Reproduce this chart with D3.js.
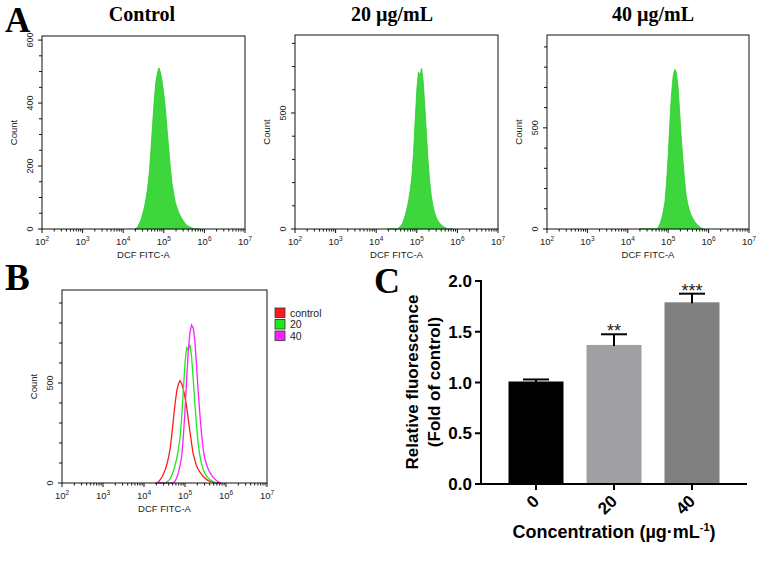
<!DOCTYPE html>
<html>
<head>
<meta charset="utf-8">
<script src="https://cdn.jsdelivr.net/npm/d3@7"></script>
<style>
  body { margin: 0; background: #fff; }
  svg { display: block; }
  .flow text { font-family: "Liberation Sans", Arial, sans-serif; fill: #222; }
  .serif { font-family: "Liberation Serif", "Times New Roman", serif; font-weight: bold; fill: #000; }
  .bar text { font-family: "Liberation Sans", Arial, sans-serif; font-weight: bold; fill: #000; }
</style>
</head>
<body>
<script>
// log10 of DCF fluorescence, bin centres shared by all histograms
var binLog = [4.28, 4.32, 4.36, 4.40, 4.44, 4.48, 4.52, 4.56, 4.60, 4.64,
              4.68, 4.72, 4.76, 4.80, 4.84, 4.88, 4.92, 4.96, 5.00, 5.04,
              5.08, 5.12, 5.16, 5.20, 5.24, 5.28, 5.32, 5.36, 5.40, 5.44,
              5.48, 5.52, 5.56, 5.60, 5.64, 5.68, 5.72, 5.76, 5.80, 5.84, 5.88];

var countControl = [0, 2, 8, 18, 30, 48, 68, 95, 129, 175,
                    245, 325, 400, 462, 495, 512, 496, 468, 428, 382,
                    318, 258, 198, 146, 116, 86, 70, 55, 44, 34,
                    26, 18, 13, 9, 7, 4, 2, 0, 0, 0, 0];

var count20 = [0, 0, 0, 0, 0, 0, 0, 6, 12, 22,
               40, 62, 90, 125, 170, 228, 330, 468, 600, 676,
               665, 692, 632, 520, 402, 290, 198, 140, 98, 70,
               50, 36, 26, 18, 12, 8, 4, 0, 0, 0, 0];

var count40 = [0, 0, 0, 0, 0, 0, 0, 0, 0, 0,
               0, 0, 10, 28, 52, 88, 135, 232, 362, 520,
               660, 752, 790, 775, 712, 592, 462, 352, 252, 175,
               126, 96, 72, 56, 42, 30, 22, 14, 8, 3, 0];

var decades = [2, 3, 4, 5, 6, 7];
var legendNames = ["control", "20", "40"];
var lineColors = ["#ff1a1a", "#1ee81e", "#ff1eff"];

// panel C
var doses = ["0", "20", "40"];
var relFluor = [1.01, 1.37, 1.79];
var relErr = [0.02, 0.105, 0.085];
var stars = ["", "**", "***"];
var barColors = ["#000000", "#a09fa4", "#808080"];
var yTicksC = [0, 0.5, 1.0, 1.5, 2.0];

var svg = d3.select("body").append("svg")
  .attr("width", 772).attr("height", 566);

function flowPanel(x0, y0, w, h, yMax, yMajor, yMinor, series, filled) {
  var g = svg.append("g").attr("class", "flow")
    .attr("transform", "translate(" + x0 + "," + y0 + ")");
  var x = d3.scaleLog().domain([1e2, 1e7]).range([0, w]);
  var y = d3.scaleLinear().domain([0, yMax]).range([h, 0]);

  series.forEach(function (s) {
    var pts = binLog.map(function (b, i) { return [Math.pow(10, b), s.counts[i]]; });
    if (filled) {
      var area = d3.area()
        .x(function (d) { return x(d[0]); })
        .y0(y(0))
        .y1(function (d) { return y(d[1]); });
      g.append("path").datum(pts).attr("d", area)
        .attr("fill", "#3dd63d").attr("stroke", "#2bcc2b").attr("stroke-width", 0.8);
    } else {
      var line = d3.line()
        .x(function (d) { return x(d[0]); })
        .y(function (d) { return y(d[1]); });
      g.append("path").datum(pts).attr("d", line)
        .attr("fill", "none").attr("stroke", s.color).attr("stroke-width", 1.3);
    }
  });

  g.append("rect").attr("x", 0).attr("y", 0).attr("width", w).attr("height", h)
    .attr("fill", "none").attr("stroke", "#111").attr("stroke-width", 1);

  // x ticks: decades plus 2..9 minor ticks
  decades.forEach(function (k) {
    var v = Math.pow(10, k);
    g.append("line").attr("x1", x(v)).attr("x2", x(v))
      .attr("y1", h).attr("y2", h + 4).attr("stroke", "#111");
    if (k < 7) {
      d3.range(2, 10).forEach(function (m) {
        g.append("line").attr("x1", x(m * v)).attr("x2", x(m * v))
          .attr("y1", h).attr("y2", h + 2.5).attr("stroke", "#111");
      });
    }
    var t = g.append("text").attr("x", x(v)).attr("y", h + 16)
      .attr("text-anchor", "middle").attr("font-size", 9.5);
    t.append("tspan").text("10");
    t.append("tspan").attr("dy", -4).attr("font-size", 6.5).text(k);
  });

  // y ticks
  d3.range(0, yMax + 0.1, yMinor).forEach(function (v) {
    var major = yMajor.indexOf(v) >= 0;
    g.append("line").attr("x1", major ? -4 : -3).attr("x2", 0)
      .attr("y1", y(v)).attr("y2", y(v)).attr("stroke", "#111");
  });
  yMajor.forEach(function (v) {
    g.append("text").attr("transform", "translate(-9," + y(v) + ") rotate(-90)")
      .attr("text-anchor", "middle").attr("font-size", 9).text(v);
  });

  g.append("text").attr("transform", "translate(-25," + (h / 2) + ") rotate(-90)")
    .attr("text-anchor", "middle").attr("font-size", 9.5).text("Count");
  g.append("text").attr("x", w / 2).attr("y", h + 29)
    .attr("text-anchor", "middle").attr("font-size", 9.5).text("DCF FITC-A");
  return g;
}

// ---- A ----
svg.append("text").attr("class", "serif").attr("x", 5).attr("y", 32)
  .attr("font-size", 35).text("A");
var titlesA = ["Control", "20 \u00b5g/mL", "40 \u00b5g/mL"];
var titleX = [142, 392, 653];
titlesA.forEach(function (t, i) {
  svg.append("text").attr("class", "serif").attr("x", titleX[i]).attr("y", 21)
    .attr("text-anchor", "middle").attr("font-size", 20).text(t);
});

flowPanel(42, 36, 203, 193, 613, [0, 200, 400, 600], 50, [{ counts: countControl }], true);
flowPanel(295, 35, 203, 194, 836, [0, 500], 100, [{ counts: count20 }], true);
flowPanel(547, 35, 202, 194, 959, [0, 500], 100, [{ counts: count40 }], true);

// ---- B ----
svg.append("text").attr("class", "serif").attr("x", 5).attr("y", 290)
  .attr("font-size", 37).text("B");
flowPanel(62, 290, 205, 193, 965, [0, 500], 100, [
  { counts: countControl, color: lineColors[0] },
  { counts: count20, color: lineColors[1] },
  { counts: count40, color: lineColors[2] }
], false);

var legend = svg.append("g").attr("class", "flow").attr("transform", "translate(275,308)");
legendNames.forEach(function (n, i) {
  legend.append("rect").attr("x", 0).attr("y", i * 11.5).attr("width", 10).attr("height", 9.5)
    .attr("fill", lineColors[i]).attr("stroke", "#333").attr("stroke-width", 0.8);
  legend.append("text").attr("x", 15).attr("y", i * 11.5 + 8.5)
    .attr("font-size", 10.5).text(n);
});

// ---- C ----
svg.append("text").attr("class", "serif").attr("x", 374).attr("y", 293)
  .attr("font-size", 36).text("C");

var gC = svg.append("g").attr("class", "bar");
var yC = d3.scaleLinear().domain([0, 2]).range([484, 281]);
var xC = d3.scaleBand().domain(doses).range([497, 731])
  .paddingInner(0.295).paddingOuter(0.1475);

gC.selectAll("rect.b").data(doses).enter().append("rect")
  .attr("x", function (d) { return xC(d); })
  .attr("y", function (d, i) { return yC(relFluor[i]); })
  .attr("width", xC.bandwidth())
  .attr("height", function (d, i) { return yC(0) - yC(relFluor[i]); })
  .attr("fill", function (d, i) { return barColors[i]; });

doses.forEach(function (d, i) {
  var cx = xC(d) + xC.bandwidth() / 2;
  var top = yC(relFluor[i] + relErr[i]);
  gC.append("line").attr("x1", cx).attr("x2", cx)
    .attr("y1", yC(relFluor[i]) + 1).attr("y2", top)
    .attr("stroke", "#000").attr("stroke-width", 2);
  gC.append("line").attr("x1", cx - 13).attr("x2", cx + 13)
    .attr("y1", top).attr("y2", top)
    .attr("stroke", "#000").attr("stroke-width", 2);
  if (stars[i]) {
    gC.append("text").attr("x", cx).attr("y", top + 3)
      .attr("text-anchor", "middle").attr("font-size", 18)
      .style("font-weight", "normal").style("fill", "#222").text(stars[i]);
  }
  gC.append("line").attr("x1", cx).attr("x2", cx).attr("y1", 484).attr("y2", 490)
    .attr("stroke", "#000").attr("stroke-width", 2);
  gC.append("text").attr("transform", "translate(" + cx + ",498) rotate(-45)")
    .attr("text-anchor", "end").attr("dy", "0.35em").attr("font-size", 17).text(d);
});

// axes lines
gC.append("line").attr("x1", 481).attr("x2", 481).attr("y1", 280).attr("y2", 485)
  .attr("stroke", "#000").attr("stroke-width", 2);
gC.append("line").attr("x1", 480).attr("x2", 747).attr("y1", 484).attr("y2", 484)
  .attr("stroke", "#000").attr("stroke-width", 2);
yTicksC.forEach(function (v) {
  gC.append("line").attr("x1", 475).attr("x2", 481).attr("y1", yC(v)).attr("y2", yC(v))
    .attr("stroke", "#000").attr("stroke-width", 2);
  gC.append("text").attr("x", 472).attr("y", yC(v)).attr("dy", "0.36em")
    .attr("text-anchor", "end").attr("font-size", 17).text(d3.format(".1f")(v));
});

gC.append("text").attr("transform", "translate(418,382) rotate(-90)")
  .attr("text-anchor", "middle").attr("font-size", 17).text("Relative fluorescence");
gC.append("text").attr("transform", "translate(440,382) rotate(-90)")
  .attr("text-anchor", "middle").attr("font-size", 17).text("(Fold of control)");

var xt = gC.append("text").attr("x", 614).attr("y", 538)
  .attr("text-anchor", "middle").attr("font-size", 18);
xt.append("tspan").text("Concentration (\u00b5g\u00b7mL");
xt.append("tspan").attr("dy", -7).attr("font-size", 11).text("-1");
xt.append("tspan").attr("dy", 7).text(")");
</script>
</body>
</html>
